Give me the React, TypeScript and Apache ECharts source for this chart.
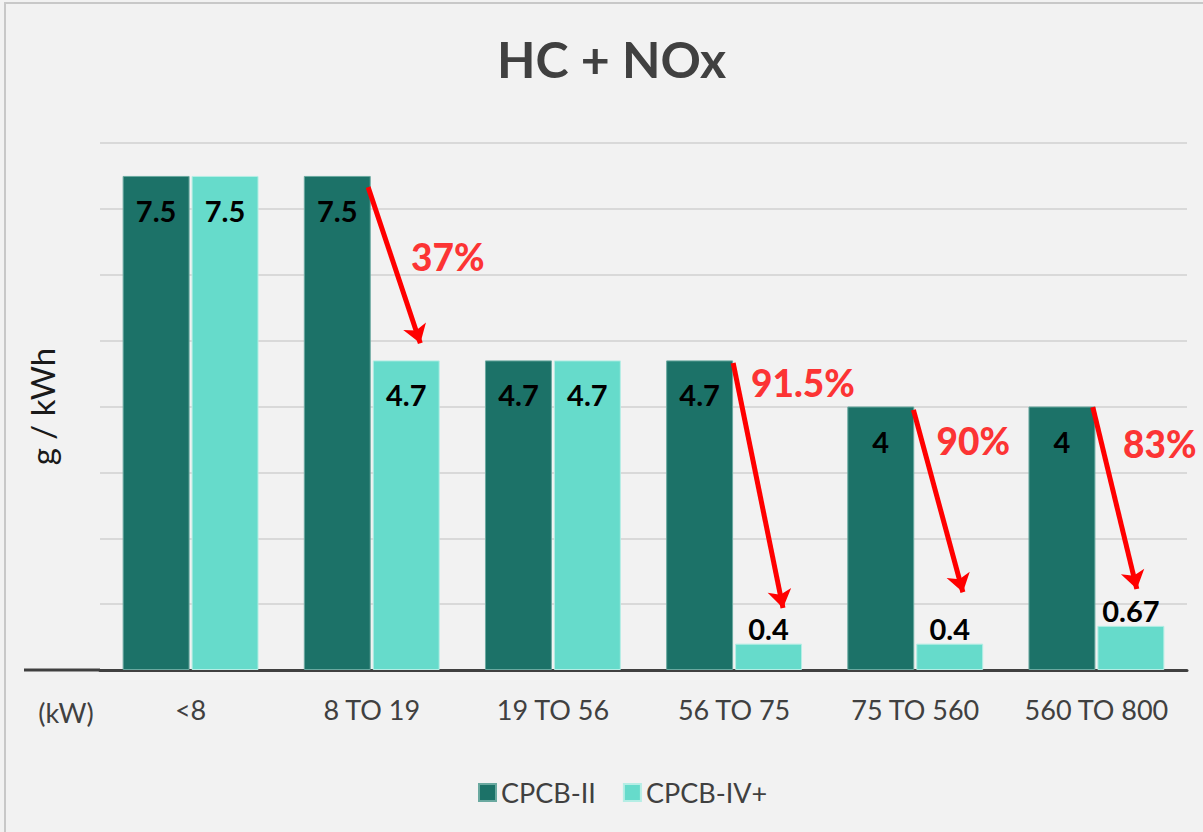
import React, { useEffect, useRef } from "react";
import * as echarts from "echarts";

const categories = ["<8", "8 TO 19", "19 TO 56", "56 TO 75", "75 TO 560", "560 TO 800"];
const cpcb2 = [7.5, 7.5, 4.7, 4.7, 4, 4];
const cpcb4 = [7.5, 4.7, 4.7, 0.4, 0.4, 0.67];
const seriesNames = ["CPCB-II", "CPCB-IV+"];
// arrow annotations, in category-position units (0..6) and g/kWh
const arrowFromX = [1.48, 3.495, 4.49, 5.48];
const arrowFromY = [7.33, 4.66, 3.95, 3.99];
const arrowToX = [1.768, 3.77, 4.763, 5.723];
const arrowToY = [4.96, 0.94, 1.18, 1.23];
const pctLabels = ["37%", "91.5%", "90%", "83%"];
const pctX = [1.92, 3.88, 4.82, 5.85];
const pctY = [6.27, 4.37, 3.49, 3.44];

const FONT = "Lato, 'Open Sans', sans-serif";

export default function App() {
  const ref = useRef<HTMLDivElement>(null);
  useEffect(() => {
    document.body.style.margin = "0";
    if (!ref.current) return;
    const chart = echarts.init(ref.current, undefined, { renderer: "svg" });
    const mkData = (arr: number[]) =>
      arr.map((v) => (v < 1 ? { value: v, label: { position: "top", distance: 1 } } : { value: v }));
    const barLabel = {
      show: true,
      position: "insideTop",
      distance: 20,
      fontSize: 29,
      fontWeight: "bold",
      color: "#000",
      fontFamily: FONT,
    };
    chart.setOption({
      animation: false,
      backgroundColor: "#f2f2f2",
      textStyle: { fontFamily: FONT },
      title: {
        text: "HC + NOx",
        left: 492,
        top: 29,
        textStyle: { fontSize: 50, fontWeight: "bold", color: "#404040", fontFamily: FONT },
      },
      legend: {
        data: seriesNames,
        left: 473,
        top: 774,
        icon: "rect",
        itemWidth: 17,
        itemHeight: 17,
        itemGap: 27,
        textStyle: { fontSize: 27, color: "#404040", fontFamily: FONT },
      },
      grid: { left: 100, right: 16, top: 143, bottom: 162 },
      xAxis: [
        {
          type: "category",
          data: categories,
          axisTick: { show: false },
          axisLine: { show: true, lineStyle: { color: "#404040", width: 3 } },
          axisLabel: { interval: 0, fontSize: 27, color: "#404040", margin: 26, fontFamily: FONT },
        },
        { type: "value", min: 0, max: 6, show: false },
      ],
      yAxis: {
        type: "value",
        min: 0,
        max: 8,
        interval: 1,
        axisLabel: { show: false },
        axisLine: { show: false },
        axisTick: { show: false },
        splitLine: { lineStyle: { color: "#d0d0d0", width: 1.5 } },
        name: "g / kWh",
        nameLocation: "middle",
        nameGap: 42,
        nameRotate: 90,
        nameTextStyle: { fontSize: 33, color: "#1a1a1a", fontFamily: FONT },
      },
      series: [
        {
          name: seriesNames[0],
          type: "bar",
          data: mkData(cpcb2),
          barGap: "3%",
          barCategoryGap: "25%",
          itemStyle: { color: "#1c7268", borderColor: "#6aa9a0", borderWidth: 1 },
          label: barLabel,
        },
        {
          name: seriesNames[1],
          type: "bar",
          data: mkData(cpcb4),
          barGap: "3%",
          barCategoryGap: "25%",
          itemStyle: { color: "#66dbcb", borderColor: "#b5eee5", borderWidth: 1 },
          label: barLabel,
        },
        {
          name: "arrows",
          type: "lines",
          coordinateSystem: "cartesian2d",
          xAxisIndex: 1,
          yAxisIndex: 0,
          symbol: ["none", "arrow"],
          symbolSize: 18,
          lineStyle: { color: "#ff0000", width: 5, opacity: 1 },
          data: arrowFromX.map((x, i) => ({
            coords: [
              [x, arrowFromY[i]],
              [arrowToX[i], arrowToY[i]],
            ],
          })),
          z: 5,
        },
        {
          name: "pct",
          type: "scatter",
          xAxisIndex: 1,
          yAxisIndex: 0,
          symbolSize: 0,
          data: pctX.map((x, i) => [x, pctY[i], pctLabels[i]]),
          label: {
            show: true,
            position: "inside",
            formatter: (p: any) => p.value[2],
            fontSize: 37,
            fontWeight: 900,
            color: "#ff0000",
            fontFamily: FONT,
          },
          z: 6,
        },
      ],
    });
    const y0 = chart.convertToPixel({ yAxisIndex: 0 }, 0) as number;
    const xStart = chart.convertToPixel({ xAxisIndex: 1 }, 0) as number;
    chart.setOption({
      graphic: [
        {
          type: "rect",
          shape: { x: 5, y: 3, width: 1210, height: 840 },
          style: { fill: "none", stroke: "#c8c8c8", lineWidth: 2 },
          silent: true,
        },
        {
          type: "line",
          shape: { x1: 24, y1: y0, x2: xStart, y2: y0 },
          style: { stroke: "#404040", lineWidth: 3 },
        },
        {
          type: "text",
          x: 66,
          y: y0 + 42,
          style: {
            text: "(kW)",
            fontSize: 27,
            fill: "#404040",
            fontFamily: FONT,
            align: "center",
            verticalAlign: "middle",
          },
        },
      ],
    });
    return () => chart.dispose();
  }, []);
  return <div ref={ref} style={{ width: 1203, height: 832 }} />;
}
